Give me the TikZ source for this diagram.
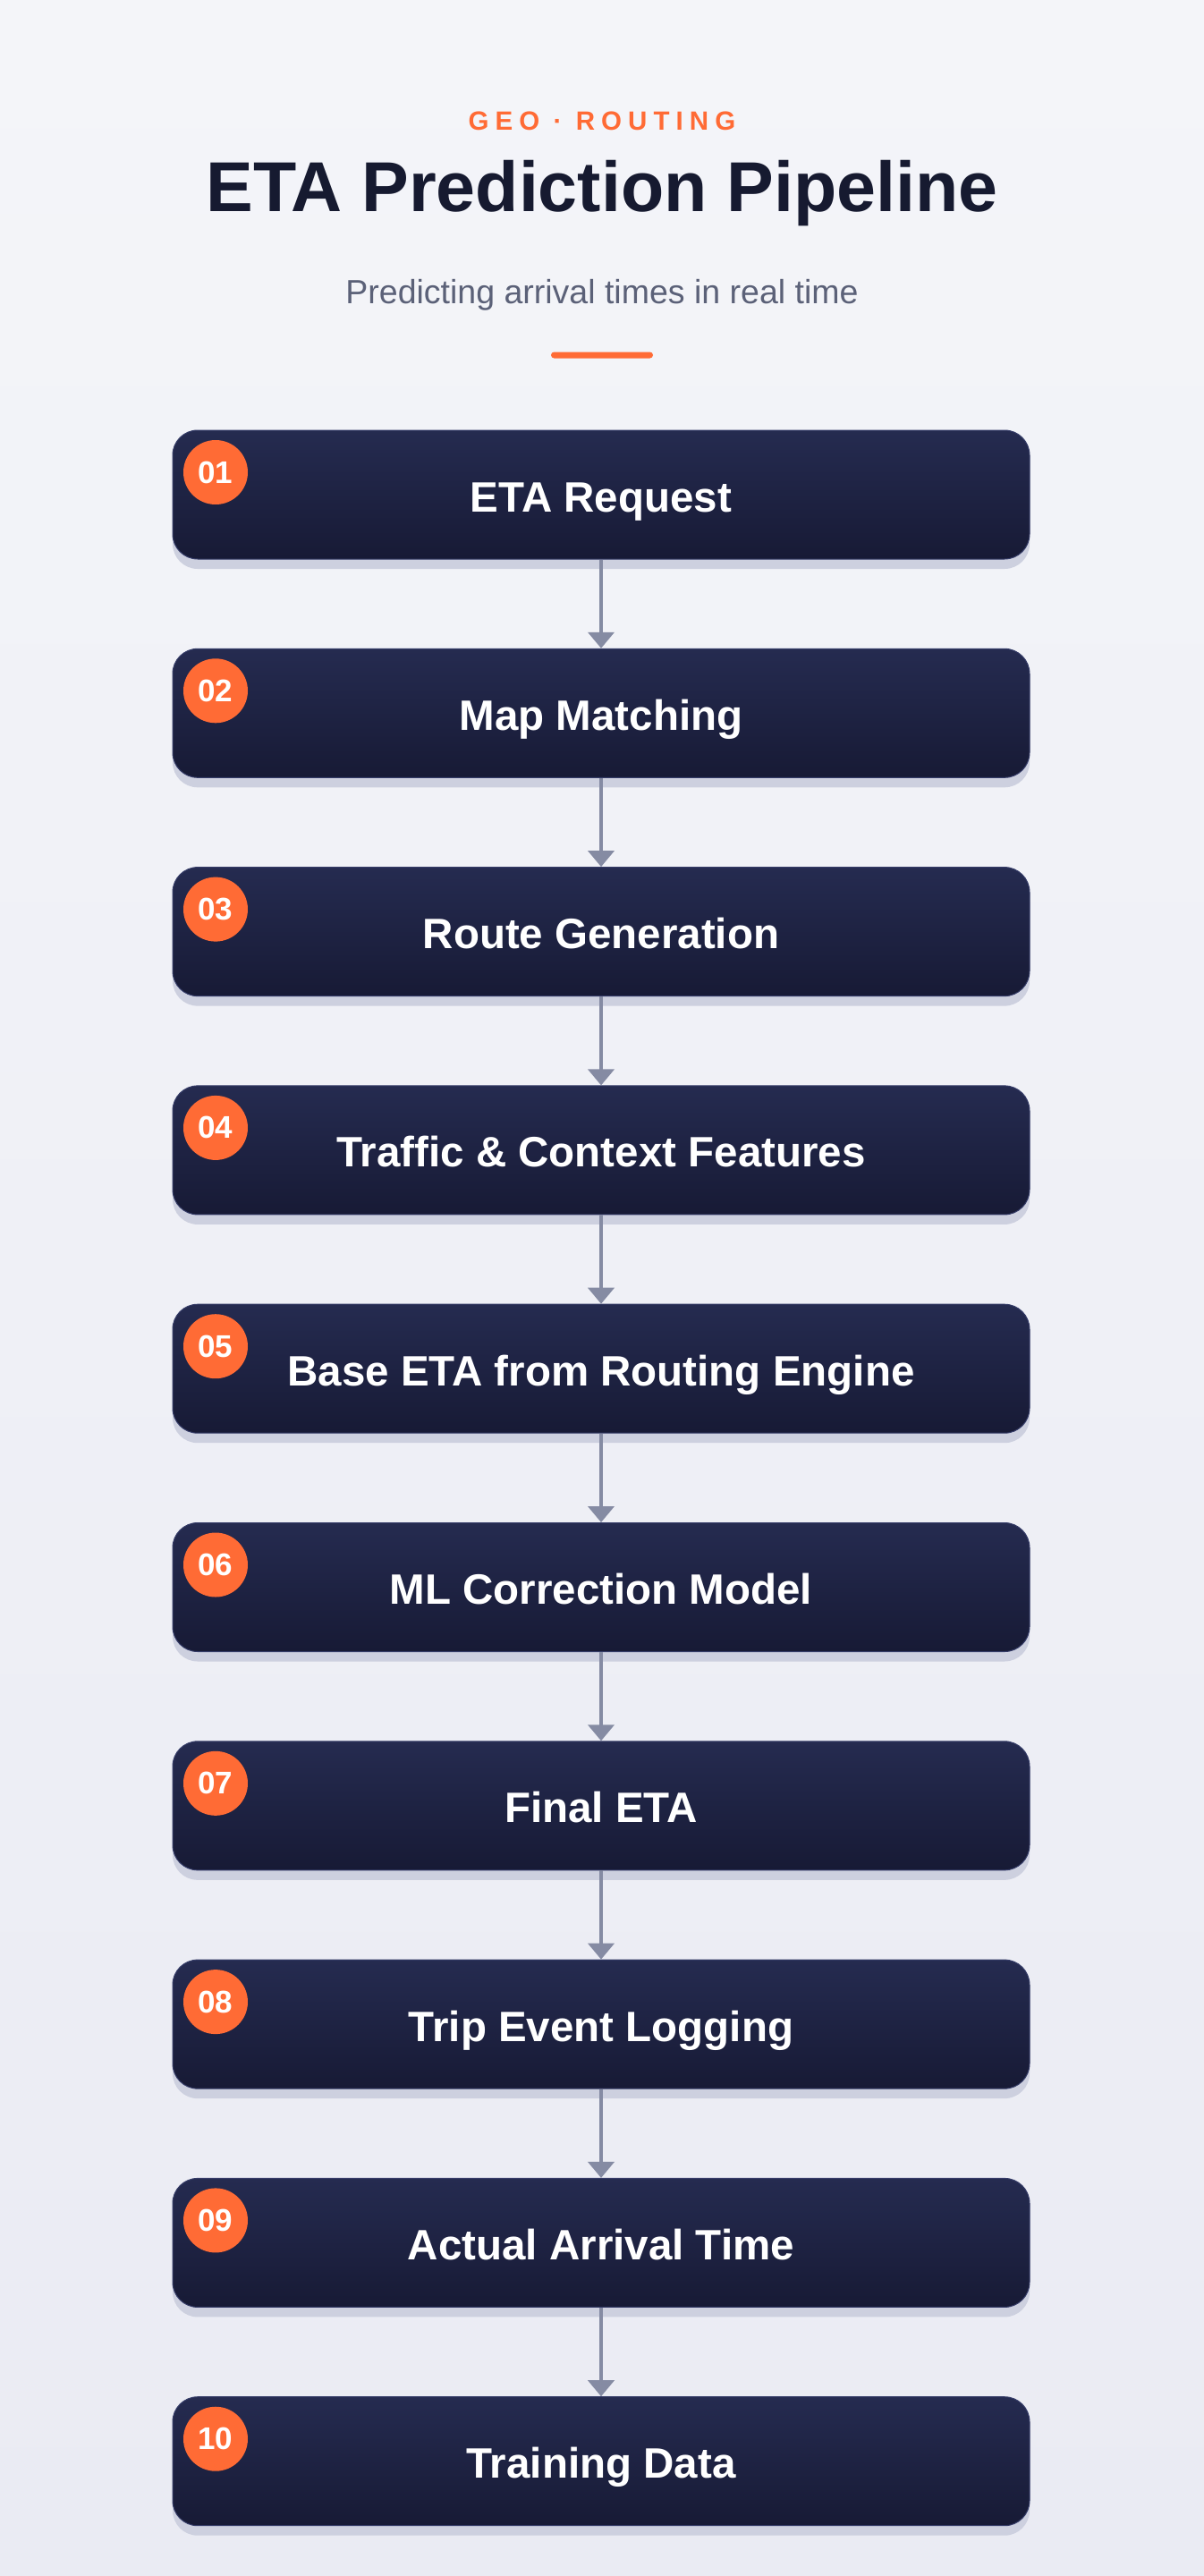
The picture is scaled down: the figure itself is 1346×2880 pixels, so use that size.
\documentclass[tikz,border=0pt]{standalone}
\usepackage{fontspec}
\setmainfont{Liberation Sans}
\usetikzlibrary{arrows.meta,calc}
\definecolor{bgtop}{HTML}{F4F5F9}
\definecolor{bgbot}{HTML}{EAEBF3}
\definecolor{navytop}{HTML}{252B50}
\definecolor{navybot}{HTML}{171A35}
\definecolor{navyedge}{HTML}{353C68}
\definecolor{shadowc}{HTML}{CDD0DF}
\definecolor{accent}{HTML}{FF6B35}
\definecolor{titlec}{HTML}{161A30}
\definecolor{subc}{HTML}{5B6178}
\definecolor{arrowc}{HTML}{858BA3}
\begin{document}
\begin{tikzpicture}[x=1pt,y=-1pt,
  stepbox/.style={rectangle, rounded corners=28pt, minimum width=958pt, minimum height=144pt,
    top color=navytop, bottom color=navybot, draw=navyedge, line width=1pt, inner sep=0pt,
    text=white, text height=38pt, text depth=0pt, font=\fontsize{47.5}{56}\selectfont\bfseries},
  badge/.style={circle, fill=accent, minimum size=72pt, inner sep=0pt, text=white,
    font=\fontsize{35}{40}\selectfont\bfseries},
  shadowbox/.style={fill=shadowc, rounded corners=28pt},
  flow/.style={draw=arrowc, line width=4pt, -{Triangle[width=29pt,length=18pt]}},
  ]
  \shade[top color=bgtop, bottom color=bgbot] (0,0) rectangle (1346,2880);
  \useasboundingbox (0,0) rectangle (1346,2880);

  \node[anchor=base, text=accent, font=\fontsize{29.5}{34}\selectfont\bfseries\addfontfeature{LetterSpace=24}] (kicker) at (673,145) {GEO · ROUTING};
  \node[anchor=base, text=titlec, font=\fontsize{79}{90}\selectfont\bfseries] (title) at (673,236) {ETA Prediction Pipeline};
  \node[anchor=base, text=subc, font=\fontsize{37.5}{44}\selectfont] (subtitle) at (673,339) {Predicting arrival times in real time};
  \node[fill=accent, rounded corners=3.5pt, minimum width=114pt, minimum height=7pt, inner sep=0pt] (bar) at (673,397) {};

  \foreach \i/\lab [count=\k from 0] in {01/ETA Request, 02/Map Matching, 03/Route Generation,
      04/Traffic \& Context Features, 05/Base ETA from Routing Engine, 06/ML Correction Model,
      07/Final ETA, 08/Trip Event Logging, 09/Actual Arrival Time, 10/Training Data} {
    \pgfmathsetmacro\ytop{481+244.3*\k}
    \fill[shadowbox] (193,\ytop+11) rectangle (1151,\ytop+155);
    \node[stepbox] (b\i) at (672,\ytop+72) {\lab};
    \node[badge] (n\i) at (241,\ytop+47) {\i};
  }
  \foreach \a/\b in {01/02,02/03,03/04,04/05,05/06,06/07,07/08,08/09,09/10} {
    \draw[flow] (b\a.south) -- (b\b.north);
  }
\end{tikzpicture}
\end{document}
